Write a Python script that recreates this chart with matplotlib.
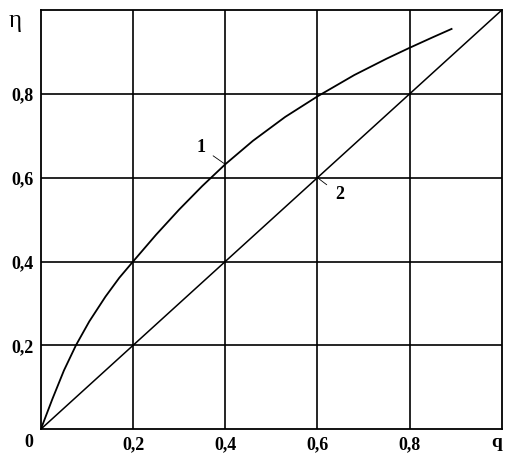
import numpy as np
import matplotlib
matplotlib.use('Agg')
import matplotlib.pyplot as plt

# curve 1
q1 = [0, 0.025, 0.05, 0.076, 0.105, 0.14, 0.17, 0.2, 0.25, 0.3, 0.35, 0.4, 0.46, 0.53,
      0.6, 0.68, 0.75, 0.8, 0.85, 0.891]
eta1 = [0, 0.072, 0.14, 0.2, 0.257, 0.316, 0.361, 0.4, 0.464, 0.524, 0.58, 0.632, 0.688, 0.745,
        0.794, 0.845, 0.884, 0.91, 0.935, 0.955]
# line 2
q2 = [0, 1.0]
eta2 = [0, 1.0]

ticks = [0.2, 0.4, 0.6, 0.8]
tick_labels = ['0,2', '0,4', '0,6', '0,8']

plt.rcParams['font.family'] = ['Liberation Serif', 'DejaVu Serif']

fig = plt.figure(figsize=(5.11, 4.58), dpi=100)
ax = fig.add_axes([0.080, 0.063, 0.902, 0.915])

for t in ticks:
    ax.axvline(t, color='black', lw=1.2)
    ax.axhline(t, color='black', lw=1.2)

ax.plot(q1, eta1, color='black', lw=1.3, solid_joinstyle='round')
ax.plot(q2, eta2, color='black', lw=1.1)

ax.set_xlim(0, 1.0)
ax.set_ylim(0, 1.0)
ax.set_xticks(ticks)
ax.set_xticklabels(tick_labels, fontsize=13, fontweight='bold')
ax.set_yticks(ticks)
ax.set_yticklabels(tick_labels, fontsize=13, fontweight='bold')
ax.tick_params(length=0, pad=5)
for s in ax.spines.values():
    s.set_linewidth(1.3)

# axis names and origin
ax.text(-0.017, -0.012, '0', fontsize=13, fontweight='bold', ha='right', va='top', clip_on=False)
ax.text(0.988, -0.012, 'q', fontsize=14, fontweight='bold', ha='center', va='top', clip_on=False)
ax.text(-0.055, 0.975, 'η', fontsize=18, ha='center', va='center', clip_on=False)

# curve labels
ax.annotate('1', xy=(0.4, 0.632), xytext=(0.348, 0.672), fontsize=13, fontweight='bold',
            ha='center', va='center',
            arrowprops=dict(arrowstyle='-', color='black', lw=0.6, shrinkA=4, shrinkB=0))
ax.annotate('2', xy=(0.6, 0.6), xytext=(0.648, 0.56), fontsize=13, fontweight='bold',
            ha='center', va='center',
            arrowprops=dict(arrowstyle='-', color='black', lw=0.6, shrinkA=5, shrinkB=0))

plt.savefig('out.png', dpi=100)
